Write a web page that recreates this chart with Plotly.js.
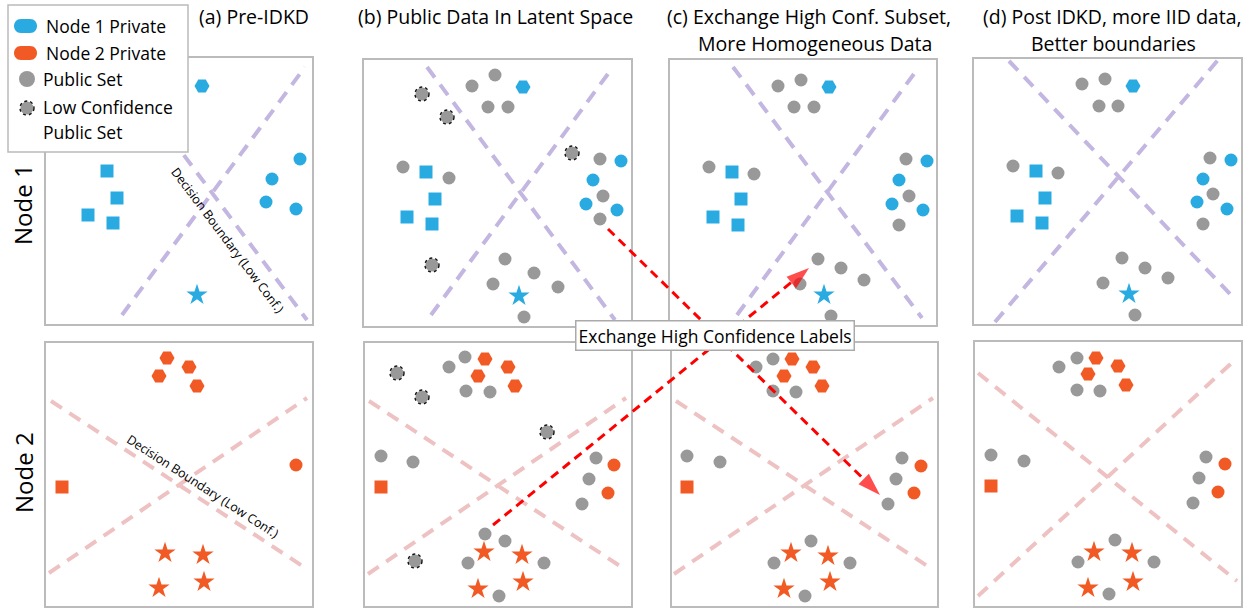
<!DOCTYPE html>
<html>
<head>
<meta charset="utf-8">
<script src="https://cdn.plot.ly/plotly-3.0.1.min.js"></script>
<style>html,body{margin:0;padding:0;background:#fff;}#chart{width:1250px;height:609px;}</style>
</head>
<body>
<div id="chart"></div>
<script>
// ---------- DATA (latent-space positions) ----------
// Node 1 row
const a1Hex = [[202,86]];
const a1Sq = [[107,171],[117,198],[88,215],[113,223]];
const a1Circ = [[300,159],[272,179],[266,202],[296,209]];
const a1Star = [[197,295]];

const b1Hex = [[523,87]];
const b1Sq = [[426,172],[435,199],[407,217],[432,224]];
const b1Circ = [[621,161],[593,180],[586,204],[617,210]];
const b1Star = [[519,296]];
const b1Public = [[472,86],[495,75],[488,107],[508,107],[403,167],[449,178],[600,159],[603,196],[600,219],[505,259],[534,273],[493,284],[558,287],[524,317]];
const b1LowConf = [[422,94],[447,117],[572,153],[432,265]];

const c1Hex = [[829,87]];
const c1Sq = [[732,172],[741,199],[713,217],[738,225]];
const c1Circ = [[927,161],[899,180],[892,204],[923,210]];
const c1Star = [[824,295]];
const c1Public = [[778,86],[801,80],[794,107],[814,107],[709,167],[754,174],[906,159],[909,196],[899,225],[818,259],[841,268],[864,280],[800,284],[831,316]];

const d1Hex = [[1133,86]];
const d1Sq = [[1036,171],[1045,198],[1017,216],[1042,223]];
const d1Circ = [[1231,160],[1203,179],[1197,202],[1227,209]];
const d1Star = [[1129,294]];
const d1Public = [[1082,84],[1105,79],[1099,106],[1118,106],[1013,166],[1058,173],[1210,158],[1213,194],[1203,224],[1122,258],[1145,268],[1168,278],[1103,283],[1135,315]];

// Node 2 row
const a2Hex = [[167,358],[189,367],[159,376],[197,386]];
const a2Sq = [[62,487]];
const a2Circ = [[296,465]];
const a2Star = [[165,553],[203,555],[159,588],[204,582]];

const b2Hex = [[485,359],[508,367],[478,376],[515,386]];
const b2Sq = [[381,487]];
const b2Circ = [[614,465],[608,493]];
const b2Star = [[484,552],[522,555],[478,589],[523,582]];
const b2Public = [[449,367],[465,357],[466,391],[490,392],[381,456],[413,462],[596,458],[589,479],[582,504],[485,534],[505,541],[468,563],[544,563],[499,596]];
const b2LowConf = [[397,373],[422,397],[547,432],[415,561]];

const c2Hex = [[792,359],[813,367],[784,376],[822,386]];
const c2Sq = [[687,487]];
const c2Circ = [[921,466],[914,493]];
const c2Star = [[791,553],[828,556],[784,589],[830,582]];
const c2Public = [[756,367],[773,359],[773,391],[796,392],[687,456],[720,462],[902,458],[896,479],[888,504],[811,541],[774,563],[850,563],[805,596]];

const d2Hex = [[1096,358],[1118,366],[1088,374],[1126,385]];
const d2Sq = [[991,486]];
const d2Circ = [[1225,464],[1218,492]];
const d2Star = [[1094,552],[1132,553],[1088,588],[1133,582]];
const d2Public = [[1059,367],[1077,358],[1077,390],[1100,391],[991,455],[1024,461],[1206,457],[1199,478],[1193,503],[1115,540],[1078,562],[1154,562],[1109,594]];

// Decision boundaries (start, end)
const node1Boundaries = [
  [[122,315],[305,67]], [[118,67],[307,320]],
  [[427,67],[615,320]], [[431,315],[613,67]],
  [[733,67],[922,318]], [[737,315],[919,67]],
  [[1009,61],[1230,294]], [[995,322],[1218,60]]
];
const node2Boundaries = [
  [[51,401],[307,569]], [[49,573],[307,398]],
  [[369,401],[626,570]], [[368,574],[626,398]],
  [[676,401],[932,569]], [[674,574],[933,398]],
  [[978,373],[1237,581]], [[978,596],[1237,358]]
];

// Exchange arrows (from, to)
const exchangeArrows = [
  [[608,229],[880,495]],
  [[493,525],[809,268]]
];

// Text labels
const panelTitles = [
  {text:'(a) Pre-IDKD', x:254, y:16},
  {text:'(b) Public Data In Latent Space', x:495, y:16},
  {text:'(c) Exchange High Conf. Subset,', x:809, y:16},
  {text:'More Homogeneous Data', x:815, y:43},
  {text:'(d) Post IDKD, more IID data,', x:1112, y:16},
  {text:'Better boundaries', x:1113, y:43}
];
const rowLabels = [{text:'Node 1', x:22, y:205},{text:'Node 2', x:23, y:473}];
const legendLabels = ['Node 1 Private','Node 2 Private','Public Set','Low Confidence','Public Set'];

// ---------- STYLE ----------
const BLUE = '#29ABE2', ORANGE = '#F15A24', GRAY = '#999999';
const PURPLE = '#C3B6E0', PINK = '#EEC2C2', RED = '#FF0000';
const FONT = '"Open Sans", "Noto Sans", sans-serif';
const INK = '#000000';

const traces = [];
const shapes = [];
const annotations = [];

function pts(list, symbol, color, size) {
  traces.push({
    type:'scatter', mode:'markers',
    x: list.map(p=>p[0]), y: list.map(p=>p[1]),
    marker:{symbol:symbol, color:color, size:size, line:{width:0}},
    hoverinfo:'skip', showlegend:false
  });
}
function dotted(list, r) {
  list.forEach(p => shapes.push({
    type:'circle', xref:'x', yref:'y', layer:'above',
    x0:p[0]-r, x1:p[0]+r, y0:p[1]-r, y1:p[1]+r,
    line:{color:'#111', width:1.4, dash:'dot'}
  }));
}

// Panel boxes
const panelBoxes = [
  [45,57,313,325],[363,59,632,327],[669,59,937,326],[973,58,1242,325],
  [45,342,313,607],[364,342,632,607],[671,342,938,607],[974,341,1242,607]
];
panelBoxes.forEach(b => shapes.push({type:'rect', xref:'x', yref:'y', layer:'below',
  x0:b[0], y0:b[1], x1:b[2], y1:b[3], line:{color:'#BBBBBB', width:2}, fillcolor:'rgba(0,0,0,0)'}));

// Boundaries
function boundaries(list, color) {
  list.forEach(s => shapes.push({type:'line', xref:'x', yref:'y', layer:'below',
    x0:s[0][0], y0:s[0][1], x1:s[1][0], y1:s[1][1],
    line:{color:color, width:4, dash:'13px,9px'}}));
}
boundaries(node1Boundaries, PURPLE);
boundaries(node2Boundaries, PINK);

// Legend box + pills
shapes.push({type:'rect', xref:'x', yref:'y', layer:'below', x0:8, y0:5, x1:188, y1:152,
  line:{color:'#BBBBBB', width:1.5}, fillcolor:'#FFFFFF'});
function pill(cx, cy, w, h, color) {
  const r = h/2, k = r*1.333;
  const xl = cx - w/2 + r, xr = cx + w/2 - r, yt = cy - r, yb = cy + r;
  shapes.push({type:'path', xref:'x', yref:'y', layer:'below',
    path:`M${xl},${yt} L${xr},${yt} C${xr+k},${yt} ${xr+k},${yb} ${xr},${yb} L${xl},${yb} C${xl-k},${yb} ${xl-k},${yt} ${xl},${yt} Z`,
    fillcolor:color, line:{width:0}});
}
pill(25.5, 26, 23, 14, BLUE);
pill(25.5, 53, 23, 14, ORANGE);
pts([[27,79]], 'circle', GRAY, 16);
pts([[27,108]], 'circle', GRAY, 13);
dotted([[27,108]], 7);
const legendPos = [[44,26],[44,53],[41,79],[41,107],[41,132]];
legendLabels.forEach((t,i)=>annotations.push({text:t, x:legendPos[i][0], y:legendPos[i][1], xref:'x', yref:'y',
  xanchor:'left', yanchor:'middle', showarrow:false, font:{family:FONT, size:17.5, color:INK}}));

// Markers
const SZ = {hex:15, sq:13, circ:13, star:16, pub:13};
[[a1Hex,a1Sq,a1Circ,a1Star],[b1Hex,b1Sq,b1Circ,b1Star],[c1Hex,c1Sq,c1Circ,c1Star],[d1Hex,d1Sq,d1Circ,d1Star]].forEach(g=>{
  pts(g[0],'hexagon2',BLUE,SZ.hex); pts(g[1],'square',BLUE,SZ.sq); pts(g[2],'circle',BLUE,SZ.circ); pts(g[3],'star',BLUE,SZ.star);
});
[[a2Hex,a2Sq,a2Circ,a2Star],[b2Hex,b2Sq,b2Circ,b2Star],[c2Hex,c2Sq,c2Circ,c2Star],[d2Hex,d2Sq,d2Circ,d2Star]].forEach(g=>{
  pts(g[0],'hexagon2',ORANGE,SZ.hex); pts(g[1],'square',ORANGE,SZ.sq); pts(g[2],'circle',ORANGE,SZ.circ); pts(g[3],'star',ORANGE,SZ.star);
});
[b1Public,c1Public,d1Public,b2Public,c2Public,d2Public].forEach(g=>pts(g,'circle',GRAY,SZ.pub));
[b1LowConf,b2LowConf].forEach(g=>{pts(g,'circle',GRAY,SZ.pub); dotted(g,7);});

// Exchange arrows
exchangeArrows.forEach(a => traces.push({
  type:'scatter', mode:'lines+markers',
  x:[a[0][0],a[1][0]], y:[a[0][1],a[1][1]],
  line:{color:RED, width:3, dash:'9px,6px'},
  marker:{symbol:'arrow', size:[0,24], color:RED, angleref:'previous', line:{width:0}},
  hoverinfo:'skip', showlegend:false
}));

// Titles & labels
panelTitles.forEach(t=>annotations.push({text:t.text, x:t.x, y:t.y, xref:'x', yref:'y', showarrow:false,
  xanchor:'center', yanchor:'middle', font:{family:FONT, size:19.5, color:INK}}));
rowLabels.forEach(t=>annotations.push({text:t.text, x:t.x, y:t.y, xref:'x', yref:'y', showarrow:false,
  textangle:-90, xanchor:'center', yanchor:'middle', font:{family:FONT, size:24, color:INK}}));
annotations.push({text:'Decision Boundary (Low Conf.)', x:228, y:240, xref:'x', yref:'y', showarrow:false,
  textangle:53, font:{family:FONT, size:12.5, color:INK}});
annotations.push({text:'Decision Boundary (Low Conf.)', x:203, y:486, xref:'x', yref:'y', showarrow:false,
  textangle:33, font:{family:FONT, size:12.5, color:INK}});
annotations.push({text:'Exchange High Confidence Labels', x:715, y:335, xref:'x', yref:'y', showarrow:false,
  bgcolor:'#FFFFFF', bordercolor:'#AAAAAA', borderwidth:1.5, borderpad:2,
  font:{family:FONT, size:17.5, color:INK}});

const layout = {
  width:1250, height:609, margin:{l:0,r:0,t:0,b:0},
  paper_bgcolor:'#FFFFFF', plot_bgcolor:'#FFFFFF',
  xaxis:{range:[0,1250], visible:false, fixedrange:true},
  yaxis:{range:[609,0], visible:false, fixedrange:true},
  showlegend:false, shapes:shapes, annotations:annotations
};
Plotly.newPlot('chart', traces, layout, {staticPlot:true, displayModeBar:false});
</script>
</body>
</html>
